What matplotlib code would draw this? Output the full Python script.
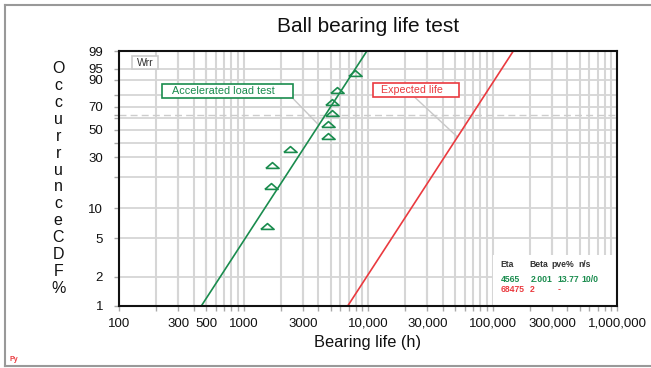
import matplotlib.pyplot as plt
from matplotlib.patches import Rectangle
from matplotlib.lines import Line2D
from matplotlib.ticker import FixedLocator, NullFormatter
import numpy as np

plt.rcParams['font.family'] = ['Liberation Sans', 'DejaVu Sans']

# Test data (hours to failure) and median-rank CDF in %
vida_teste = [1540, 1660, 1690, 2360, 4770, 4770, 5140, 5140, 5640, 7860]
cdf_teste = [6.7, 16.3, 26.0, 35.6, 45.2, 54.8, 64.4, 74.0, 83.7, 93.3]

# Fitted Weibull lines, read at the 1% and 99% ends
linha_cdf = [1, 99]
linha_teste = [458, 9800]
linha_esperada = [6870, 147000]

x_ticks = [100, 300, 500, 1000, 3000, 10000, 30000, 100000, 300000, 1000000]
x_labels = ['100', '300', '500', '1000', '3000', '10,000', '30,000',
            '100,000', '300,000', '1,000,000']
y_ticks = [1, 2, 5, 10, 30, 50, 70, 90, 95, 99]
y_grid = [1, 2, 5, 10, 20, 30, 40, 50, 60, 70, 80, 90, 95, 99]
y_minor = [20, 40, 60, 63.2, 80]

# Table in the lower right corner
tabela_titulo = ['Eta', 'Beta', 'pve%', 'n/s']
tabela_teste = ['4565', '2.001', '13.77', '10/0']
tabela_esperada = ['68475', '2', '-']

verde = '#1a8c4e'
vermelho = '#ea3a3f'
cinza = '#d6d6d6'


def weibull_fwd(p):
    p = np.clip(np.asarray(p, dtype=float), 1e-6, 100 - 1e-6)
    return np.log(-np.log(1 - p / 100))


def weibull_inv(y):
    return 100 * (1 - np.exp(-np.exp(y)))


fig = plt.figure(figsize=(6.51, 3.68), dpi=100)
ax = fig.add_axes([119 / 651, 62 / 368, 498 / 651, 255 / 368])

ax.set_xscale('log')
ax.set_yscale('function', functions=(weibull_fwd, weibull_inv))
ax.set_xlim(100, 1000000)
ax.set_ylim(1, 99)

# Grid
minor_x = [m * 10 ** k for k in range(2, 6) for m in range(2, 10)]
for v in minor_x + x_ticks:
    ax.axvline(v, color=cinza, lw=1.5, zorder=0)
for v in y_grid:
    ax.axhline(v, color=cinza, lw=1.3, zorder=0)
ax.axhline(63.2, color='#cccccc', lw=1.0, ls=(0, (5, 3)), zorder=0)

# Ticks
ax.xaxis.set_major_locator(FixedLocator(x_ticks))
ax.xaxis.set_minor_locator(FixedLocator(minor_x))
ax.set_xticklabels(x_labels)
ax.xaxis.set_minor_formatter(NullFormatter())
ax.yaxis.set_major_locator(FixedLocator(y_ticks))
ax.yaxis.set_minor_locator(FixedLocator(y_minor))
ax.set_yticklabels([str(v) for v in y_ticks])
ax.yaxis.set_minor_formatter(NullFormatter())
ax.tick_params(which='both', direction='out', length=3.5, width=1,
               color='#aaaaaa', labelsize=9.5, labelcolor='#111111')
ax.tick_params(axis='y', pad=8)
ax.tick_params(axis='x', pad=5)

for s in ax.spines.values():
    s.set_linewidth(1.5)
    s.set_color('#111111')
    s.set_zorder(5)

# Lines and points
ax.plot(linha_teste, linha_cdf, color=verde, lw=1.2, zorder=3)
ax.plot(linha_esperada, linha_cdf, color=vermelho, lw=1.2, zorder=3)
triangulo = [(-1, -0.44), (1, -0.44), (0, 0.44), (-1, -0.44)]
ax.plot(vida_teste, cdf_teste, ls='none', marker=triangulo, ms=9.5,
        mfc='none', mec=verde, mew=1.2, zorder=4)

# Labels
ax.set_title('Ball bearing life test', fontsize=15, pad=13.5, color='#111111')
ax.set_xlabel('Bearing life (h)', fontsize=11.8, labelpad=4, color='#111111')
ax.set_ylabel('\n'.join('OccurrunceCDF%'), rotation=0, fontsize=11.5,
              linespacing=1.16, color='#111111', va='center', ha='center')
ax.yaxis.set_label_coords(-0.122, 0.5)

# Wrr box
ax.add_patch(Rectangle((0.0267, 0.928), 0.052, 0.052, transform=ax.transAxes,
                       fc='white', ec='#cccccc', lw=1.2, zorder=4))
ax.text(0.0528, 0.954, 'Wrr', transform=ax.transAxes, fontsize=7.5,
        color='#333333', ha='center', va='center', zorder=5)

# Annotation boxes with leader lines
ax.add_patch(Rectangle((0.0857, 0.8145), 0.2643, 0.0561, transform=ax.transAxes,
                       fc='white', ec=verde, lw=1.2, zorder=4))
ax.text(0.1058, 0.843, 'Accelerated load test', transform=ax.transAxes,
        fontsize=7.8, color=verde, ha='left', va='center', zorder=5)
ax.annotate('', xy=(4030, 54), xycoords='data', xytext=(0.349, 0.8145),
            textcoords='axes fraction',
            arrowprops=dict(arrowstyle='-', color='#c8c8c8', lw=1,
                            shrinkA=0, shrinkB=0), zorder=2)

ax.add_patch(Rectangle((0.5107, 0.8184), 0.1726, 0.0549, transform=ax.transAxes,
                       fc='white', ec=vermelho, lw=1.2, zorder=4))
ax.text(0.5255, 0.846, 'Expected life', transform=ax.transAxes,
        fontsize=7.7, color=vermelho, ha='left', va='center', zorder=5)
ax.annotate('', xy=(52290, 44.2), xycoords='data', xytext=(0.594, 0.8184),
            textcoords='axes fraction',
            arrowprops=dict(arrowstyle='-', color='#c8c8c8', lw=1,
                            shrinkA=0, shrinkB=0), zorder=2)

# Results table
ax.add_patch(Rectangle((0.751, 0.0), 0.249, 0.2, transform=ax.transAxes,
                       fc='white', ec='none', zorder=4))
col_titulo = [0.7665, 0.824, 0.868, 0.922]
col_teste = [0.7665, 0.8267, 0.880, 0.929]
col_esperada = [0.7665, 0.824, 0.880]
for x, t in zip(col_titulo, tabela_titulo):
    ax.text(x, 0.161, t, transform=ax.transAxes, fontsize=6.2, weight='bold',
            color='#333333', va='center', zorder=5)
for x, t in zip(col_teste, tabela_teste):
    ax.text(x, 0.105, t, transform=ax.transAxes, fontsize=6.2, weight='bold',
            color=verde, va='center', zorder=5)
for x, t in zip(col_esperada, tabela_esperada):
    ax.text(x, 0.065, t, transform=ax.transAxes, fontsize=6.2, weight='bold',
            color=vermelho, va='center', zorder=5)

# Outer frame and corner mark
moldura = dict(color='#999999', lw=1.5, transform=fig.transFigure)
fig.add_artist(Line2D([5 / 651, 1], [1 - 5 / 368, 1 - 5 / 368], **moldura))
fig.add_artist(Line2D([5 / 651, 5 / 651], [2 / 368, 1 - 5 / 368], **moldura))
fig.add_artist(Line2D([5 / 651, 1], [2 / 368, 2 / 368], **moldura))
fig.text(9 / 651, 7 / 368, 'Py', fontsize=5, weight='bold', color=vermelho)

plt.savefig('out.png', dpi=100)
plt.close()
